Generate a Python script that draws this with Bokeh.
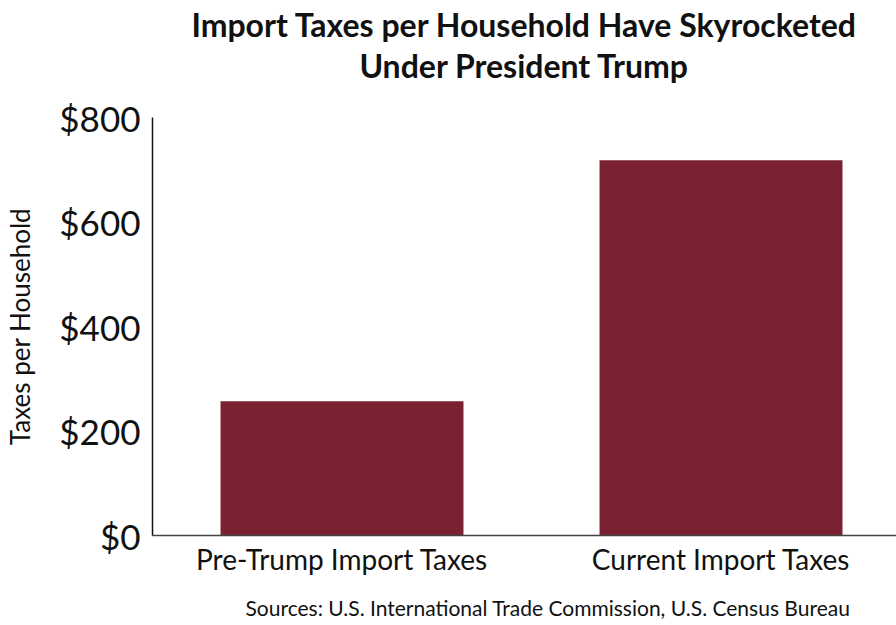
from bokeh.plotting import figure
from bokeh.models import Range1d, FixedTicker, Title, ColumnDataSource
from bokeh.embed import file_html
from bokeh.resources import INLINE

# ---- data ----
categories = ["Pre-Trump Import Taxes", "Current Import Taxes"]
values = [257, 718]
y_ticks = [0, 200, 400, 600, 800]
y_tick_labels = ["$0", "$200", "$400", "$600", "$800"]
title_lines = ["Import Taxes per Household Have Skyrocketed", "Under President Trump"]
y_label = "Taxes per Household"
source_note = "Sources: U.S. International Trade Commission, U.S. Census Bureau"

FONT = "Lato"
BAR = "#7a2232"

xpos = [i + 0.5 for i in range(len(categories))]
src = ColumnDataSource(dict(x=xpos, top=values, cat=categories))

p = figure(width=896, height=625, output_backend="svg", toolbar_location=None,
           x_range=Range1d(0, 1.963), y_range=Range1d(0, 800),
           min_border_left=152, min_border_right=0, min_border_top=117,
           min_border_bottom=90, title=None)

p.vbar(x="x", top="top", width=0.641, bottom=0, source=src, color=BAR, line_color=None)

p.grid.visible = False
p.outline_line_color = None
p.background_fill_color = "white"
p.border_fill_color = "white"

# y axis
ya = p.yaxis[0]
ya.ticker = FixedTicker(ticks=y_ticks)
ya.major_label_overrides = {t: l for t, l in zip(y_ticks, y_tick_labels)}
ya.major_tick_line_color = None
ya.minor_tick_line_color = None
ya.axis_line_color = "#111111"
ya.axis_line_width = 1.5
ya.major_label_text_font = FONT
ya.major_label_text_font_size = "35px"
ya.major_label_text_color = "#111111"
ya.major_label_standoff = 6
ya.axis_label = y_label
ya.axis_label_text_font = FONT
ya.axis_label_text_font_size = "26px"
ya.axis_label_text_font_style = "normal"
ya.axis_label_text_color = "#111111"
ya.axis_label_standoff = 20

# x axis
xa = p.xaxis[0]
xa.ticker = FixedTicker(ticks=xpos)
xa.major_label_overrides = {x: c for x, c in zip(xpos, categories)}
xa.major_tick_line_color = None
xa.minor_tick_line_color = None
xa.axis_line_color = "#444444"
xa.axis_line_width = 1.5
xa.major_label_text_font = FONT
xa.major_label_text_font_size = "28px"
xa.major_label_text_color = "#111111"
xa.major_label_standoff = 0

# spacer between frame and title (panels stack outward from the frame)
p.add_layout(Title(text=" ", text_font_size="1px", standoff=30), "above")
for line in reversed(title_lines):
    p.add_layout(Title(text=line, align="center", text_font=FONT,
                       text_font_size="32px", text_font_style="bold",
                       text_color="#111111", standoff=0, text_line_height=0.85), "above")

# spacer between x labels and sources note
p.add_layout(Title(text=" ", text_font_size="1px", standoff=11), "below")
p.add_layout(Title(text=source_note, align="left", text_font=FONT,
                   text_font_size="21px", text_font_style="normal",
                   text_color="#111111", offset=93, standoff=0), "below")

open("out.html", "w").write(file_html(p, INLINE))
